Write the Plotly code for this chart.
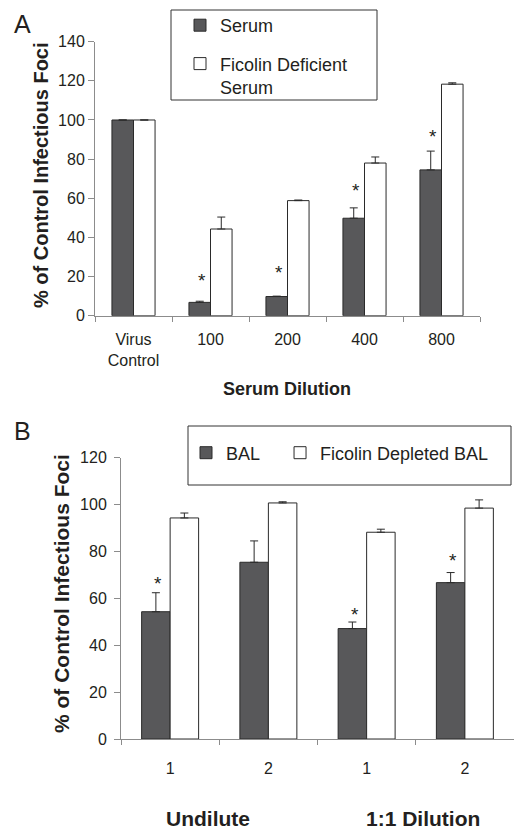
import plotly.graph_objects as go

# ---------------- Data ----------------
# Panel A
a_categories = ["Virus<br>Control", "100", "200", "400", "800"]
a_serum = [100, 6.8, 9.8, 49.8, 74.5]
a_serum_err = [0, 0.6, 0.2, 5.3, 9.6]
a_ficolin = [100, 44.3, 58.8, 78.0, 118.3]
a_ficolin_err = [0, 6.1, 0.3, 3.1, 0.7]
a_star_cats = ["100", "200", "400", "800"]
a_star_y = [20, 24, 66, 93.5]

# Panel B
b_categories = ["U1", "U2", "D1", "D2"]
b_ticklabels = ["1", "2", "1", "2"]
b_bal = [54.3, 75.4, 47.1, 66.7]
b_bal_err = [8.1, 9.1, 2.8, 4.3]
b_depleted = [94.3, 100.7, 88.2, 98.5]
b_depleted_err = [2.1, 0.5, 1.3, 3.5]
b_star_cats = ["U1", "D1", "D2"]
b_star_y = [67.8, 54.3, 77.5]

# ---------------- Style ----------------
W, H = 514, 829
FONT = "Liberation Sans, Arial, sans-serif"
TXT = "#231f20"
DARK = "#58585a"
EDGE = "#2a2a2a"
AXIS = "#8c8c8c"
NB = "\u00a0"


def px(x):
    return x / W


def py(y):
    return 1 - y / H


fig = go.Figure()

# Panel A bars
fig.add_trace(go.Bar(
    x=a_categories, y=a_serum, name="Serum",
    width=0.28, offset=-0.28,
    marker=dict(color=DARK, line=dict(color=EDGE, width=1)),
    error_y=dict(type="data", array=a_serum_err, arrayminus=[0] * len(a_serum),
                 symmetric=False, color=EDGE, thickness=1, width=4),
    xaxis="x", yaxis="y", legend="legend", legendgroup="a1",
))
fig.add_trace(go.Bar(
    x=a_categories, y=a_ficolin, name="Ficolin Deficient<br>Serum",
    width=0.28, offset=0.0,
    marker=dict(color="white", line=dict(color=EDGE, width=1)),
    error_y=dict(type="data", array=a_ficolin_err, arrayminus=[0] * len(a_ficolin),
                 symmetric=False, color=EDGE, thickness=1, width=4),
    xaxis="x", yaxis="y", legend="legend", legendgroup="a2",
))

# Panel B bars
fig.add_trace(go.Bar(
    x=b_categories, y=b_bal, name="BAL" + NB * 3,
    width=0.29, offset=-0.29,
    marker=dict(color=DARK, line=dict(color=EDGE, width=1)),
    error_y=dict(type="data", array=b_bal_err, arrayminus=[0] * len(b_bal),
                 symmetric=False, color=EDGE, thickness=1, width=4),
    xaxis="x2", yaxis="y2", legend="legend2",
))
fig.add_trace(go.Bar(
    x=b_categories, y=b_depleted, name="Ficolin Depleted BAL",
    width=0.29, offset=0.0,
    marker=dict(color="white", line=dict(color=EDGE, width=1)),
    error_y=dict(type="data", array=b_depleted_err, arrayminus=[0] * len(b_depleted),
                 symmetric=False, color=EDGE, thickness=1, width=4),
    xaxis="x2", yaxis="y2", legend="legend2",
))

tickfont = dict(family=FONT, size=16, color=TXT)

fig.update_layout(
    width=W, height=H,
    margin=dict(l=0, r=0, t=0, b=0),
    paper_bgcolor="white", plot_bgcolor="white",
    template="none",
    barmode="overlay",
    font=dict(family=FONT, color=TXT),
    xaxis=dict(
        domain=[px(95), px(480)], anchor="y", type="category",
        categoryorder="array", categoryarray=a_categories,
        range=[-0.5, len(a_categories) - 0.5],
        showline=True, linecolor=AXIS, linewidth=1,
        ticks="outside", tickson="boundaries", ticklen=5, tickcolor=AXIS,
        showgrid=False, zeroline=False, tickfont=tickfont, ticklabelstandoff=9,
    ),
    yaxis=dict(
        domain=[py(315.7), py(41.7)], anchor="x", range=[0, 140], dtick=20,
        showline=True, linecolor=AXIS, linewidth=1,
        ticks="outside", ticklen=6, tickcolor=AXIS,
        showgrid=False, zeroline=False, tickfont=tickfont,
    ),
    xaxis2=dict(
        domain=[px(121), px(514)], anchor="y2", type="category",
        categoryorder="array", categoryarray=b_categories,
        range=[-0.5, len(b_categories) - 0.5],
        tickmode="array", tickvals=b_categories, ticktext=b_ticklabels,
        showline=True, linecolor=AXIS, linewidth=1,
        ticks="outside", tickson="boundaries", ticklen=5, tickcolor=AXIS,
        showgrid=False, zeroline=False, tickfont=tickfont, ticklabelstandoff=15,
    ),
    yaxis2=dict(
        domain=[py(739), py(457.7)], anchor="x2", range=[0, 120], dtick=20,
        showline=True, linecolor=AXIS, linewidth=1,
        ticks="outside", ticklen=6, tickcolor=AXIS,
        showgrid=False, zeroline=False, tickfont=tickfont, ticklabelstandoff=4,
    ),
    legend=dict(
        x=px(180), y=py(7), xanchor="left", yanchor="top",
        orientation="v", valign="top", traceorder="grouped",
        tracegroupgap=12, bgcolor="rgba(0,0,0,0)", borderwidth=0,
        font=dict(family=FONT, size=18, color=TXT),
    ),
    legend2=dict(
        x=px(186), y=py(453), xanchor="left", yanchor="middle",
        orientation="h",
        bgcolor="rgba(0,0,0,0)", borderwidth=0,
        font=dict(family=FONT, size=18, color=TXT),
    ),
    showlegend=True,
)

# legend frames
fig.add_shape(type="rect", xref="paper", yref="paper",
              x0=px(171), x1=px(377), y0=py(100), y1=py(10),
              line=dict(color="#333333", width=1))
fig.add_shape(type="rect", xref="paper", yref="paper",
              x0=px(188), x1=px(511), y0=py(485), y1=py(426),
              line=dict(color="#333333", width=1))

ann = []
# significance stars (x given as category index)
for c, yv in zip(a_star_cats, a_star_y):
    ann.append(dict(x=a_categories.index(c), y=yv, xref="x", yref="y", text="*",
                    showarrow=False, xanchor="center", yanchor="middle",
                    xshift=-9, yshift=-4, font=dict(family=FONT, size=19, color=TXT)))
for c, yv in zip(b_star_cats, b_star_y):
    ann.append(dict(x=b_categories.index(c), y=yv, xref="x2", yref="y2", text="*",
                    showarrow=False, xanchor="center", yanchor="middle",
                    xshift=-12, yshift=-3, font=dict(family=FONT, size=19, color=TXT)))


def label(x, y, text, size, angle=0):
    return dict(x=px(x), y=py(y), xref="paper", yref="paper", text=text,
                textangle=angle, showarrow=False, xanchor="center", yanchor="middle",
                font=dict(family=FONT, size=size, color=TXT))


# panel letters
ann.append(label(22, 24, "A", 25))
ann.append(label(22, 431, "B", 25))
# axis titles
ann.append(label(41, 175, "<b>% of Control Infectious Foci</b>", 20, -90))
ann.append(label(61, 594, "<b>% of Control Infectious Foci</b>", 21, -90))
ann.append(label(287, 389, "<b>Serum Dilution</b>", 18))
ann.append(label(208, 818, "<b>Undilute</b>", 21))
ann.append(label(423, 818, "<b>1:1 Dilution</b>", 21))

fig.update_layout(annotations=ann)

fig.write_html("out.html", config={"displayModeBar": False},
               post_script="document.body.style.margin='0';")
